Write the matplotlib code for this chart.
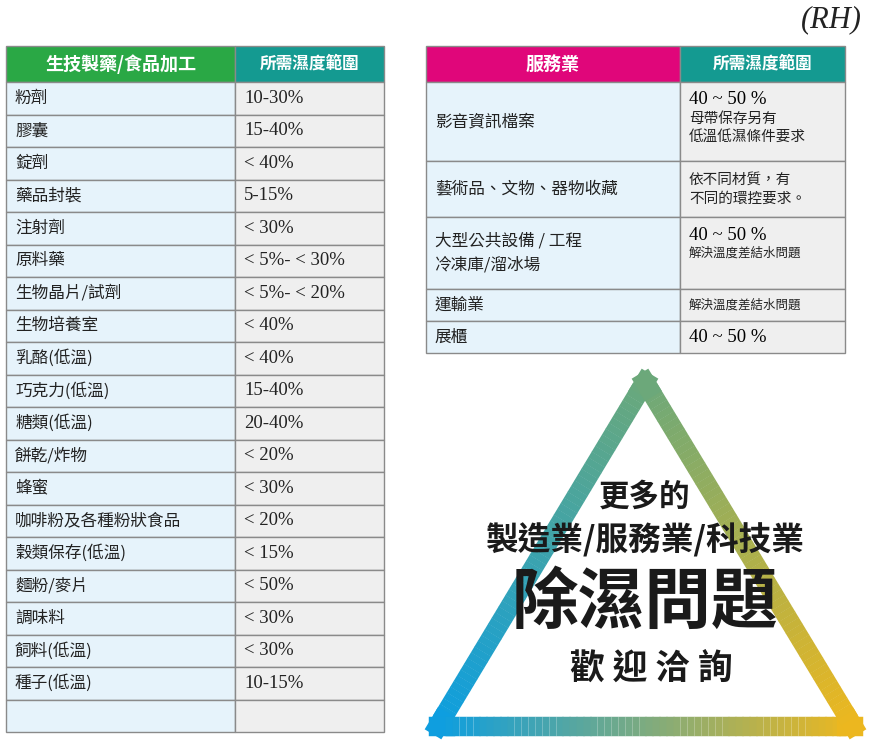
import matplotlib.pyplot as plt
import numpy as np
from matplotlib.patches import Rectangle

plt.rcParams['font.family'] = ['Noto Sans CJK TC', 'DejaVu Sans']

left_header = ["生技製藥/食品加工", "所需濕度範圍"]
left_items = ["粉劑", "膠囊", "錠劑", "藥品封裝", "注射劑", "原料藥", "生物晶片/試劑", "生物培養室",
              "乳酪(低溫)", "巧克力(低溫)", "糖類(低溫)", "餅乾/炸物", "蜂蜜", "咖啡粉及各種粉狀食品",
              "穀類保存(低溫)", "麵粉/麥片", "調味料", "飼料(低溫)", "種子(低溫)", ""]
left_values = ["10-30%", "15-40%", "< 40%", "5-15%", "< 30%", "< 5%- < 30%", "< 5%- < 20%", "< 40%",
               "< 40%", "15-40%", "20-40%", "< 20%", "< 30%", "< 20%", "< 15%", "< 50%", "< 30%",
               "< 30%", "10-15%", ""]

right_header = ["服務業", "所需濕度範圍"]
right_items = ["影音資訊檔案", "藝術品、文物、器物收藏", "大型公共設備 / 工程\n冷凍庫/溜冰場", "運輸業", "展櫃"]
right_values = [("40 ~ 50 %", "母帶保存另有\n低溫低濕條件要求"),
                ("", "依不同材質，有\n不同的環控要求。"),
                ("40 ~ 50 %", "解決溫度差結水問題"),
                ("", "解決溫度差結水問題"),
                ("40 ~ 50 %", "")]
right_bounds = [82, 161, 217, 289, 321, 353]

BLUE_BG = "#e6f3fb"
GREY_BG = "#efefef"
LINE = "#8a8a8a"

fig = plt.figure(figsize=(8.7, 7.41), dpi=100)
ax = fig.add_axes([0, 0, 1, 1])
ax.set_xlim(0, 870)
ax.set_ylim(741, 0)
ax.axis("off")


def cell(x0, y0, x1, y1, color):
    ax.add_patch(Rectangle((x0, y0), x1 - x0, y1 - y0, facecolor=color, edgecolor=LINE, linewidth=1))


# left table
lx0, lxm, lx1 = 6, 235, 384
cell(lx0, 46, lxm, 82, "#2aa845")
cell(lxm, 46, lx1, 82, "#149a91")
ax.text((lx0 + lxm) / 2, 64, left_header[0], color="white", fontsize=13, weight="bold", ha="center", va="center")
ax.text((lxm + lx1) / 2, 64, left_header[1], color="white", fontsize=12, weight="bold", ha="center", va="center")
rh = (732 - 82) / len(left_items)
for i, (name, val) in enumerate(zip(left_items, left_values)):
    y0 = 82 + i * rh
    cell(lx0, y0, lxm, y0 + rh, BLUE_BG)
    cell(lxm, y0, lx1, y0 + rh, GREY_BG)
    ax.text(lx0 + 9, y0 + rh / 2, name, fontsize=12, ha="left", va="center", color="#222")
    ax.text(lxm + 9, y0 + rh / 2, val, fontsize=13.5, ha="left", va="center", color="#222",
            family="Liberation Serif")

# right table
rx0, rxm, rx1 = 426, 680, 845
cell(rx0, 46, rxm, 82, "#e0067a")
cell(rxm, 46, rx1, 82, "#149a91")
ax.text((rx0 + rxm) / 2, 64, right_header[0], color="white", fontsize=13, weight="bold", ha="center", va="center")
ax.text((rxm + rx1) / 2, 64, right_header[1], color="white", fontsize=12, weight="bold", ha="center", va="center")
for i, (name, (num, note)) in enumerate(zip(right_items, right_values)):
    y0, y1 = right_bounds[i], right_bounds[i + 1]
    cell(rx0, y0, rxm, y1, BLUE_BG)
    cell(rxm, y0, rx1, y1, GREY_BG)
    ax.text(rx0 + 9, (y0 + y1) / 2, name, fontsize=12, ha="left", va="center", color="#222", linespacing=1.6)
    if num and note:
        ax.text(rxm + 9, y0 + 18, num, fontsize=13.5, ha="left", va="center", family="Liberation Serif")
        fs = 10.5 if "\n" in note else 9
        ax.text(rxm + 9, y0 + 30, note, fontsize=fs, ha="left", va="top", color="#222", linespacing=1.3)
    elif num:
        ax.text(rxm + 9, (y0 + y1) / 2, num, fontsize=13.5, ha="left", va="center", family="Liberation Serif")
    else:
        fs = 10.5 if "\n" in note else 9
        ax.text(rxm + 9, (y0 + y1) / 2, note, fontsize=fs, ha="left", va="center", color="#222", linespacing=1.5)

ax.text(862, 20, "(RH)", fontsize=22, style="italic", ha="right", va="center", family="Liberation Serif", color="#222")

# gradient triangle
top = np.array([645, 382])
bl = np.array([438, 726])
br = np.array([853, 726])
c_top = np.array([0.42, 0.66, 0.48])
c_bl = np.array([0.05, 0.62, 0.88])
c_br = np.array([0.93, 0.72, 0.12])
for (p, q, cp, cq) in [(top, bl, c_top, c_bl), (bl, br, c_bl, c_br), (br, top, c_br, c_top)]:
    n = 60
    for k in range(n):
        t0, t1 = k / n, (k + 1.05) / n
        a = p + (q - p) * t0
        b = p + (q - p) * min(t1, 1)
        col = cp + (cq - cp) * (k + 0.5) / n
        cap = "projecting" if k in (0, n - 1) else "butt"
        ax.plot([a[0], b[0]], [a[1], b[1]], color=col, linewidth=14, solid_capstyle=cap)

ax.text(645, 497, "更多的", fontsize=22, weight="bold", ha="center", va="center", color="#1a1a1a")
ax.text(645, 540, "製造業/服務業/科技業", fontsize=23.5, weight="bold", ha="center", va="center", color="#1a1a1a")
ax.text(645, 603, "除濕問題", fontsize=48, weight="black", ha="center", va="center", color="#1a1a1a")
ax.text(651, 668, "歡 迎 洽 詢", fontsize=25, weight="bold", ha="center", va="center", color="#1a1a1a")

fig.savefig("out.png", dpi=100)
